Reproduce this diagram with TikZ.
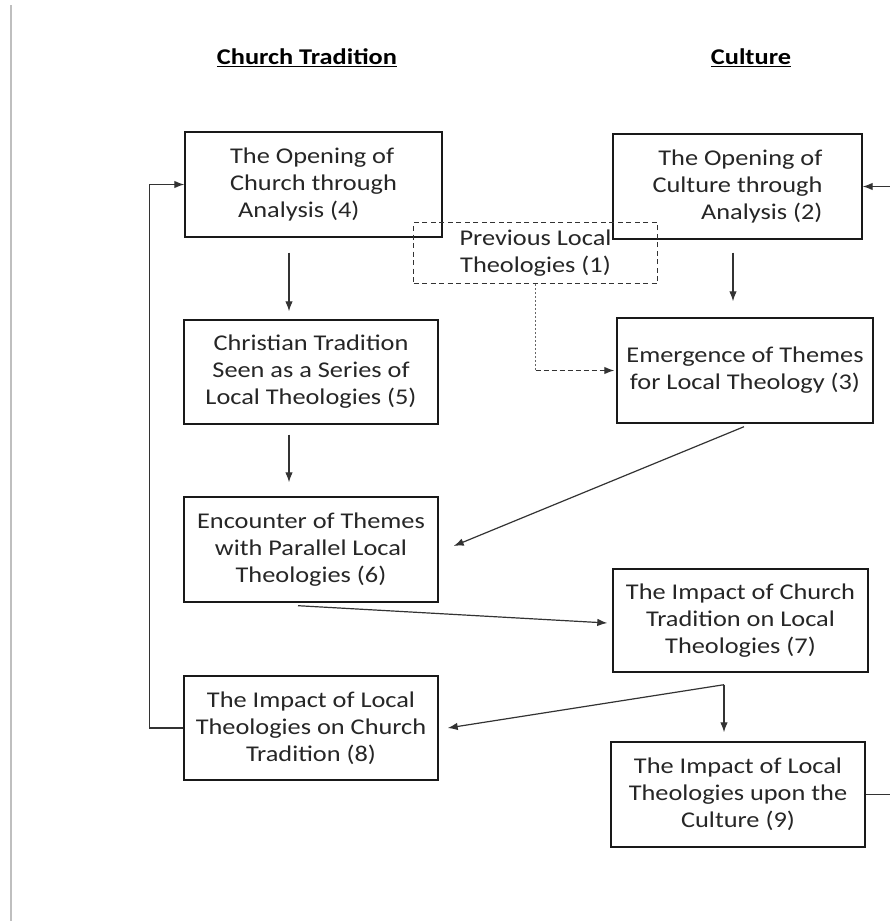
\documentclass[tikz,border=0pt]{standalone}
\usepackage{fontspec}
\setmainfont[FakeStretch=1.17]{Carlito}
\usetikzlibrary{arrows.meta}

\begin{document}
\begin{tikzpicture}[x=1pt,y=1pt,
  every node/.style={font=\fontsize{22.5}{27}\selectfont, text=black!85},
  stage/.style={draw=black!90, line width=1.4pt, inner sep=0pt, align=center},
  prevbox/.style={draw=black!80, line width=1.3pt, dash pattern=on 5pt off 3.5pt, inner sep=0pt, align=center},
  title/.style={font=\fontsize{22.5}{27}\selectfont\bfseries, text=black},
  arr/.style={draw=black!80, line width=1.2pt, -{Latex[length=10pt,width=7.5pt]}},
  plain/.style={draw=black!80, line width=1.2pt}]
\useasboundingbox (0,0) rectangle (890,-921);
\fill[white] (0,0) rectangle (890,-921);
\draw[black!25, line width=2pt] (11,-5) -- (11,-921);

% column heads
\node[title] (tct) at (307,-58) {\underline{Church Tradition}};
\node[title] (tcu) at (751,-58) {\underline{Culture}};

% stages
\node[stage, minimum width=257, minimum height=105, align=left] (b4) at (313.5,-184.5)
  {The Opening of\\Church through\\\hspace*{8pt}Analysis (4)};
\node[stage, minimum width=249, minimum height=105, align=right] (b2) at (737.5,-186.5)
  {The Opening of\\Culture through\\Analysis (2)};
\node[prevbox, minimum width=244, minimum height=61] (b1) at (535.5,-253)
  {Previous Local\\Theologies (1)};
\node[stage, minimum width=254, minimum height=104] (b5) at (311,-372)
  {Christian Tradition\\Seen as a Series of\\Local Theologies (5)};
\node[stage, minimum width=256, minimum height=105] (b3) at (745,-370.5)
  {Emergence of Themes\\for Local Theology (3)};
\node[stage, minimum width=254, minimum height=105] (b6) at (311,-549.5)
  {Encounter of Themes\\with Parallel Local\\Theologies (6)};
\node[stage, minimum width=255, minimum height=103] (b7) at (740.5,-620.5)
  {The Impact of Church\\Tradition on Local\\Theologies (7)};
\node[stage, minimum width=254, minimum height=104] (b8) at (311,-728)
  {The Impact of Local\\Theologies on Church\\Tradition (8)};
\node[stage, minimum width=254, minimum height=105] (b9) at (738,-794.5)
  {The Impact of Local\\Theologies upon the\\Culture (9)};

% free ends at the right edge
\coordinate (r2) at (890,-186.5);
\coordinate (r9) at (890,-794.5);

% connectors
\draw[arr] ([shift={(-24.5,-15)}]b4.south) -- ([shift={(-22,8)}]b5.north);
\draw[arr] ([shift={(-4.5,-13)}]b2.south) -- ([shift={(-12,16)}]b3.north);
\draw[arr] ([shift={(-22,-10)}]b5.south) -- ([shift={(-22,14)}]b6.north);
\draw[arr] ([shift={(-1,-3)}]b3.south) -- ([shift={(15,3.5)}]b6.east);
\draw[arr] ([shift={(-13,-3)}]b6.south) -- ([shift={(-5,-2.5)}]b7.west);
\coordinate (fork) at ([shift={(-16.5,-12)}]b7.south);
\draw[arr] (fork) -- ([shift={(9,0)}]b8.east);
\draw[arr, shorten >=9pt] (fork) -- (fork |- b9.north);
\draw[arr] (b8.west) -- ++(-34,0) |- (b4.west);
\draw[plain] (b9.east) -- (r9);
\draw[arr] (r2) -- (b2.east);
\draw[black!60, line width=1.3pt, dash pattern=on 2pt off 2pt] (b1.south) -- (b1.south |- b3.west) coordinate (bend);
\draw[arr, dash pattern=on 5pt off 3pt] (bend) -- ([xshift=-2]b3.west);
\end{tikzpicture}
\end{document}
